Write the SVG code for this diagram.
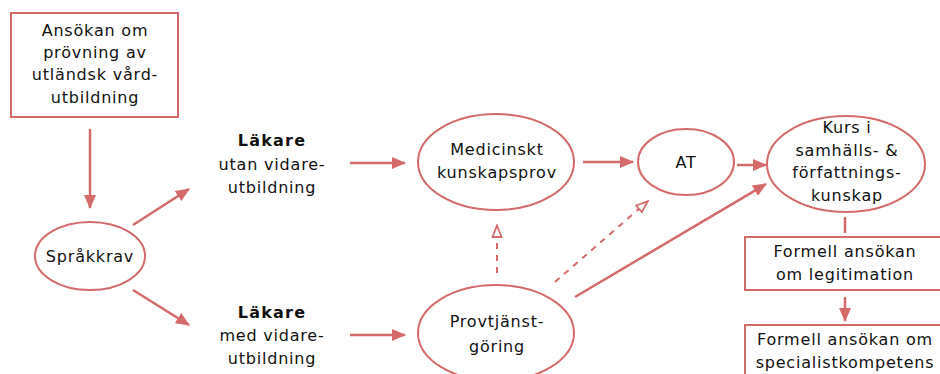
<svg xmlns="http://www.w3.org/2000/svg" width="940" height="374" viewBox="0 0 940 374">
<style>
.n{fill:#fff;stroke:#d46a6a;stroke-width:2}
.t{font-family:"DejaVu Sans",Verdana,sans-serif;font-size:16px;fill:#111;text-anchor:middle;letter-spacing:0.8px}
.b{font-weight:bold;letter-spacing:1.2px}
.c{stroke:#d46a6a;stroke-width:2.5;fill:none}
.s{marker-end:url(#ah)}
.d{stroke-dasharray:6 6;stroke-width:2;marker-end:url(#oh)}
</style>
<defs>
<marker id="ah" markerUnits="userSpaceOnUse" markerWidth="14" markerHeight="12" refX="13" refY="6" orient="auto">
<path d="M0,0 L14,6 L0,12 z" fill="#d46a6a"/>
</marker>
<marker id="oh" markerUnits="userSpaceOnUse" markerWidth="14" markerHeight="12" refX="13" refY="6" orient="auto">
<path d="M1,1.5 L12.5,6 L1,10.5 z" fill="#fff" stroke="#d46a6a" stroke-width="1.8"/>
</marker>
</defs>
<rect width="940" height="374" fill="#fff"/>
<g id="connectors">
<line class="c s" x1="90" y1="129" x2="90" y2="208"/>
<line class="c s" x1="133" y1="225" x2="189" y2="189"/>
<line class="c s" x1="133" y1="290" x2="189" y2="325"/>
<line class="c s" x1="350" y1="163" x2="405" y2="163"/>
<line class="c s" x1="350" y1="335" x2="405" y2="335"/>
<line class="c s" x1="583" y1="162" x2="633" y2="162"/>
<line class="c s" x1="737" y1="165" x2="766" y2="165"/>
<line class="c s" x1="575" y1="297" x2="766" y2="184"/>
<line class="c d" x1="497" y1="273" x2="497" y2="225"/>
<line class="c d" x1="555" y1="282" x2="648" y2="201"/>
<line class="c" x1="845" y1="217" x2="845" y2="233"/>
<line class="c s" x1="845" y1="297" x2="845" y2="321"/>
</g>
<g id="ansokan">
<rect class="n" x="11" y="13" width="167" height="104"/>
<text class="t" x="95" y="36">Ansökan om</text>
<text class="t" x="95" y="58">prövning av</text>
<text class="t" x="95" y="80">utländsk vård-</text>
<text class="t" x="95" y="103">utbildning</text>
</g>
<g id="sprakkrav">
<ellipse class="n" cx="90" cy="256" rx="55" ry="34"/>
<text class="t" x="90" y="262">Språkkrav</text>
</g>
<g id="lakare-utan">
<text class="t b" x="272" y="146">Läkare</text>
<text class="t" x="272" y="170">utan vidare-</text>
<text class="t" x="272" y="193">utbildning</text>
</g>
<g id="lakare-med">
<text class="t b" x="272" y="318">Läkare</text>
<text class="t" x="272" y="341">med vidare-</text>
<text class="t" x="272" y="364">utbildning</text>
</g>
<g id="medicinskt">
<ellipse class="n" cx="496" cy="162" rx="78" ry="48"/>
<text class="t" x="497" y="155">Medicinskt</text>
<text class="t" x="497" y="178">kunskapsprov</text>
</g>
<g id="at">
<ellipse class="n" cx="686" cy="162" rx="48" ry="33"/>
<text class="t" x="686" y="168">AT</text>
</g>
<g id="provtjanst">
<ellipse class="n" cx="496" cy="333" rx="78" ry="48"/>
<text class="t" x="497" y="327">Provtjänst-</text>
<text class="t" x="497" y="352">göring</text>
</g>
<g id="kurs">
<ellipse class="n" cx="846" cy="164" rx="79" ry="48"/>
<text class="t" x="847" y="133">Kurs i</text>
<text class="t" x="847" y="156">samhälls- &amp;</text>
<text class="t" x="847" y="178">författnings-</text>
<text class="t" x="847" y="201">kunskap</text>
</g>
<g id="legitimation">
<rect class="n" x="745" y="237" width="201" height="53"/>
<text class="t" x="845" y="257">Formell ansökan</text>
<text class="t" x="845" y="280">om legitimation</text>
</g>
<g id="specialist">
<rect class="n" x="745" y="325" width="201" height="60"/>
<text class="t" x="845" y="345">Formell ansökan om</text>
<text class="t" x="845" y="368">specialistkompetens</text>
</g>
</svg>
